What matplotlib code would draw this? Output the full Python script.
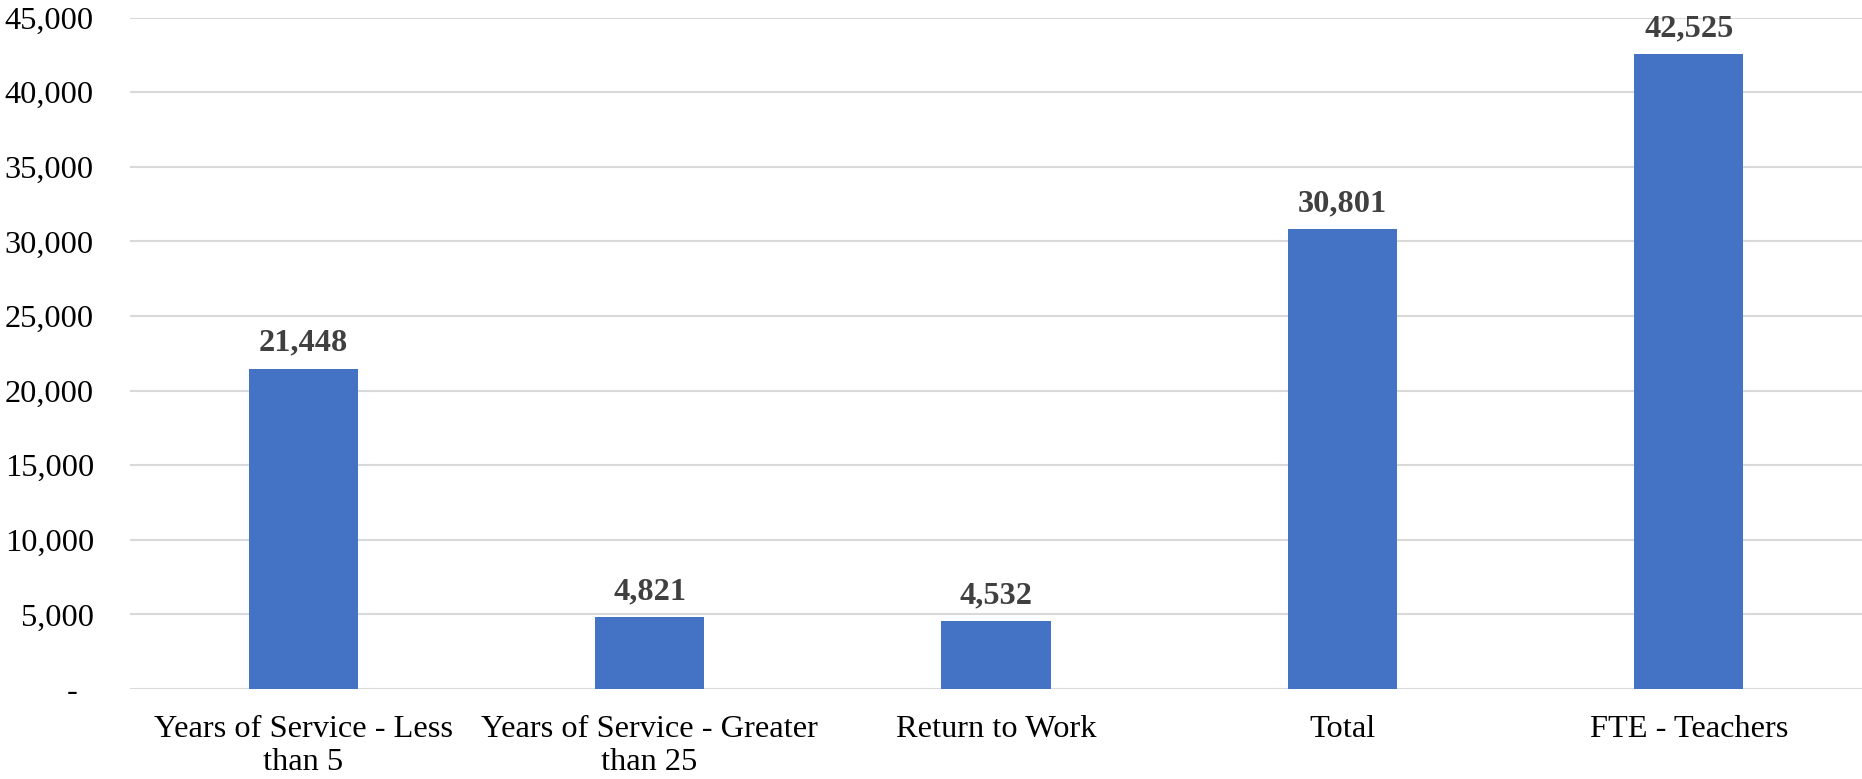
import matplotlib.pyplot as plt
import numpy as np

# chart data
categories = ['Years of Service - Less\nthan 5', 'Years of Service - Greater\nthan 25',
              'Return to Work', 'Total', 'FTE - Teachers']
values = [21448, 4821, 4532, 30801, 42525]
yticks = [0, 5000, 10000, 15000, 20000, 25000, 30000, 35000, 40000, 45000]

plt.rcParams['font.family'] = ['Liberation Serif', 'DejaVu Serif']

fig = plt.figure(figsize=(18.62, 7.79), dpi=100)
ax = fig.add_axes([130/1862, 1 - 689/779, 1 - 130/1862, (689 - 17.5)/779])

x = np.arange(len(categories))
bars = ax.bar(x, values, width=0.315, color='#4472C4', zorder=3)

for b, v in zip(bars, values):
    ax.annotate(f'{v:,}', (b.get_x() + b.get_width()/2, v), xytext=(0, 8),
                textcoords='offset points', ha='center', va='bottom',
                fontsize=23.3, fontweight='bold', color='#404040')

ax.set_xlim(-0.5, len(categories) - 0.5)
ax.set_ylim(0, 45000)
ax.set_yticks(yticks)
ax.set_yticklabels(['-  ' if t == 0 else f'{t:,}' for t in yticks])
ax.set_xticks(x)
ax.set_xticklabels(categories, linespacing=1.17)

ax.grid(axis='y', color='#d9d9d9', linewidth=1.5, zorder=0)
for s in ax.spines.values():
    s.set_visible(False)
ax.tick_params(axis='y', length=0, pad=26, labelsize=23.3, labelcolor='#000000')
ax.tick_params(axis='x', length=0, pad=19, labelsize=23.3, labelcolor='#000000')

fig.savefig('out.png', dpi=100)
